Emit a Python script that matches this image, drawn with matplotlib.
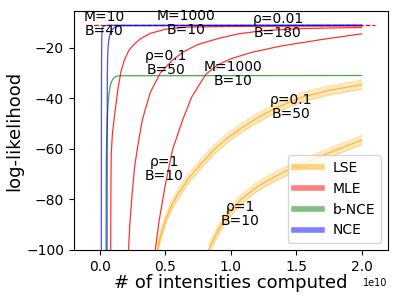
import numpy as np
import matplotlib
matplotlib.use('Agg')
import matplotlib.pyplot as plt
from matplotlib.lines import Line2D

# values (x in units of 1e10)
nce1_x = [0.010, 0.011, 0.012, 0.014, 0.018, 0.03, 0.06, 2.0]
nce1_y = [-100, -50, -25, -15, -12, -11.3, -11.0, -11.0]
nce2_x = [0.054, 0.055, 0.056, 0.058, 0.061, 0.066, 0.072, 0.080, 0.092, 0.11, 0.13, 0.16, 2.0]
nce2_y = [-100, -50, -32, -25, -20.5, -17.5, -15.5, -14, -12.8, -11.9, -11.5, -11.2, -11.0]

bnce_x = [0.046, 0.047, 0.049, 0.052, 0.056, 0.062, 0.069, 0.077, 0.085, 0.095, 0.108, 0.125, 0.16, 2.0]
bnce_y = [-100, -75, -62, -54, -48, -42, -38, -35.5, -33.8, -32.6, -31.8, -31.2, -31.0, -30.9]

mle1_x = [0.082, 0.083, 0.086, 0.095, 0.113, 0.138, 0.16, 0.185, 0.22, 0.254, 0.308, 0.385, 0.5, 0.638, 0.923, 1.23, 2.0]
mle1_y = [-100, -80, -62, -54, -46, -36, -29.5, -25, -21, -18.9, -16.4, -14.2, -12.6, -11.8, -11.5, -11.4, -11.3]
mle2_x = [0.218, 0.228, 0.245, 0.265, 0.285, 0.323, 0.385, 0.46, 0.55, 0.638, 0.75, 0.9, 1.05, 1.23, 1.5, 1.75, 2.0]
mle2_y = [-100, -90, -78, -67, -60, -48.6, -37.5, -30, -25, -21.5, -18.6, -16.3, -14.5, -13.2, -12.4, -12.1, -11.9]
mle3_x = [0.423, 0.45, 0.5, 0.554, 0.631, 0.7, 0.808, 0.9, 1.0, 1.154, 1.385, 1.7, 2.0]
mle3_y = [-100, -89, -74, -60.4, -48.6, -39.5, -30.5, -26.7, -24.3, -21.8, -19.2, -16.6, -14.4]

opt_x = [-0.1, 2.1]
opt_y = [-10.9, -10.9]

lse1_x = [0.438, 0.46, 0.5, 0.55, 0.6, 0.68, 0.769, 0.869, 0.97, 1.077, 1.2, 1.35, 1.538, 1.75, 2.0]
lse1_y = [-100, -95, -88, -82, -77.5, -71.5, -66, -60.4, -55.8, -51.8, -47.8, -43.6, -39.6, -36.8, -34.5]
lse1_err = [1.8] * len(lse1_x)
lse2_x = [0.83, 0.86, 0.9, 0.95, 1.0, 1.077, 1.2, 1.3, 1.45, 1.6, 1.8, 2.0]
lse2_y = [-100, -96.5, -92.5, -88, -84.5, -80, -75, -72, -68, -64.8, -60.5, -56.5]
lse2_err = [1.8] * len(lse2_x)

labels = ['M=10\nB=40', 'M=1000\nB=10', '\u03c1=0.01\nB=180', '\u03c1=0.1\nB=50',
          'M=1000\nB=10', '\u03c1=0.1\nB=50', '\u03c1=1\nB=10', '\u03c1=1\nB=10']
label_x = [0.03, 0.66, 1.36, 0.508, 1.015, 1.46, 0.49, 1.07]
label_y = [-10.6, -10.2, -11.2, -26.0, -30.4, -43.4, -68.0, -85.8]

fig = plt.figure(figsize=(3.99, 2.99), dpi=100)
ax = fig.add_axes([0.185, 0.164, 0.787, 0.798])

scale = 1e10
for x, y, e in [(lse1_x, lse1_y, lse1_err), (lse2_x, lse2_y, lse2_err)]:
    x = np.array(x) * scale
    y = np.array(y)
    e = np.array(e)
    ax.fill_between(x, y - e, y + e, color='orange', alpha=0.25, lw=0)
    ax.plot(x, y - e, color='orange', alpha=0.35, lw=0.8)
    ax.plot(x, y + e, color='orange', alpha=0.35, lw=0.8)
    ax.plot(x, y, color='orange', alpha=0.8, lw=0.8)

for x, y in [(mle1_x, mle1_y), (mle2_x, mle2_y), (mle3_x, mle3_y)]:
    ax.plot(np.array(x) * scale, y, color='red', alpha=0.8, lw=0.9)
ax.plot(np.array(opt_x) * scale, opt_y, color='red', ls='--', lw=0.9)

ax.plot(np.array(bnce_x) * scale, bnce_y, color='green', alpha=0.7, lw=0.9)
for x, y in [(nce1_x, nce1_y), (nce2_x, nce2_y)]:
    ax.plot(np.array(x) * scale, y, color='blue', alpha=0.7, lw=0.9)

for t, x, y in zip(labels, label_x, label_y):
    ax.text(x * scale, y, t, ha='center', va='center', fontsize=10, linespacing=1.0)

ax.set_xlim(-0.2 * scale, 2.2 * scale)
ax.set_ylim(-100, -5.5)
ax.set_yticks([-100, -80, -60, -40, -20])
ax.set_xticks([0, 0.5e10, 1.0e10, 1.5e10, 2.0e10])
ax.tick_params(labelsize=10)
ax.xaxis.get_offset_text().set_fontsize(7)
ax.set_xlabel('# of intensities computed', fontsize=13, labelpad=0)
ax.set_ylabel('log-likelihood', fontsize=13, labelpad=2)

handles = [Line2D([], [], color=c, lw=4, alpha=0.5) for c in ['orange', 'red', 'green', 'blue']]
ax.legend(handles, ['LSE', 'MLE', 'b-NCE', 'NCE'], loc='lower right', fontsize=10)

fig.savefig('out.png', dpi=100)
